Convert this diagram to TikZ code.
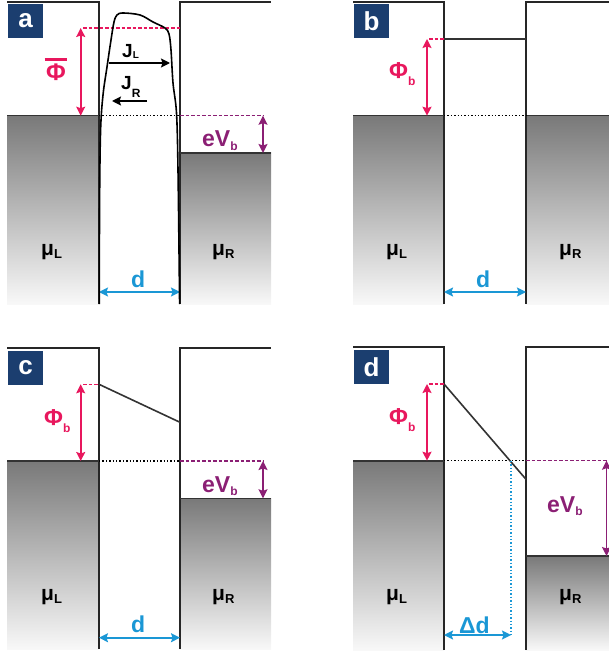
\documentclass[tikz,border=0pt]{standalone}
\usepackage{fontspec}
\setmainfont{Liberation Sans}
\usetikzlibrary{arrows.meta}
\definecolor{navy}{HTML}{1B3E6F}
\definecolor{pinkc}{HTML}{E8175D}
\definecolor{purp}{HTML}{8B1F74}
\definecolor{bluec}{HTML}{1A97D5}
\definecolor{gtop}{HTML}{797979}
\definecolor{gbot}{HTML}{F8F8F8}
\newcommand\sbs[3][3pt]{\raisebox{-#1}{\fontsize{#2}{#2}\selectfont #3}}
\newcommand\barphi{\setbox0=\hbox{Φ}\dimen0=\wd0 \advance\dimen0 by 3pt \vbox{\hrule width\dimen0 height 2.4pt\kern3.5pt\hbox to\dimen0{\hss\box0\hss}}}
\tikzset{
  panellbl/.style={fill=navy, text=white, minimum width=35pt, minimum height=34pt, inner sep=0pt, font=\fontsize{26}{26}\selectfont\bfseries},
  wall/.style={line width=1.8pt, black!85},
  lvl/.style={line width=1.6pt, black!80},
  metal/.style={top color=gtop, bottom color=gbot},
  big/.style={font=\fontsize{23}{25}\selectfont\bfseries, inner sep=0pt, anchor=base west},
  mu/.style={font=\fontsize{21}{23}\selectfont\bfseries, inner sep=0pt, anchor=base west},
  jtxt/.style={font=\fontsize{19}{21}\selectfont\bfseries, inner sep=0pt, anchor=base west},
  tip/.tip={Stealth[length=9pt,width=9pt,inset=1.5pt]},
  dbl/.style={tip-tip, line width=1.6pt},
  sgl/.style={-tip, line width=1.6pt},
  dotline/.style={line width=1.5pt, dash pattern=on 1.4pt off 2pt},
  dashline/.style={line width=1.4pt, dash pattern=on 3.5pt off 2pt},
}
\begin{document}
\begin{tikzpicture}[x=1pt,y=-1pt]
\useasboundingbox (0,0) rectangle (609,655);

% ================= panel a =================
\shade[metal] (7,115.7) rectangle (99,304);
\shade[metal] (180,153) rectangle (271,304);
\coordinate (aTL) at (7,2.3);
\coordinate (aTLc) at (99,2.3);
\coordinate (aBL) at (99,304);
\coordinate (aTR) at (271,2.3);
\coordinate (aTRc) at (180,2.3);
\coordinate (aBR) at (180,304);
\coordinate (aFL0) at (7,115.7);
\coordinate (aFL) at (99,115.7);
\coordinate (aFR) at (180,115.7);
\coordinate (aFRe) at (263,115.7);
\coordinate (aR0) at (180,153);
\coordinate (aR1) at (271,153);
\coordinate (aPt) at (83,28);
\coordinate (aPr) at (180,28);
\coordinate (aPa) at (80.7,28);
\coordinate (aPb) at (80.7,115.7);
\coordinate (aVa) at (263,115.7);
\coordinate (aVb) at (263,153);
\coordinate (aDa) at (99,292);
\coordinate (aDb) at (180,292);
\draw[wall] (aTL) -- (aTLc) -- (aBL);
\draw[wall] (aBR) -- (aTRc) -- (aTR);
\draw[lvl] (aFL0) -- (aFL);
\draw[lvl] (aR0) -- (aR1);
\draw[dotline] (aFL) -- (aFR);
\draw[dashline, purp] (aFR) -- (aFRe);
\draw[dashline, pinkc] (aPt) -- (aPr);
\draw[dbl, pinkc] (aPa) -- (aPb);
\draw[dbl, purp] (aVa) -- (aVb);
\draw[dbl, bluec] (aDa) -- (aDb);
\draw[line width=1.6pt] plot[smooth, tension=0.55] coordinates {(99.3,304) (99.6,200) (100.6,130) (103,95) (107,67) (111,40) (114,22) (117,15) (123,13) (140,15) (153,22) (165,28) (169,34) (171,50) (173,83) (176.5,113) (178,170) (179.6,304)};
\coordinate (aJLa) at (109,63);
\coordinate (aJLb) at (170,63);
\coordinate (aJRa) at (147,101);
\coordinate (aJRb) at (112,101);
\draw[sgl] (aJLa) -- (aJLb);
\draw[sgl] (aJRa) -- (aJRb);
\node[panellbl] (la) at (25.5,21) {a};
\node[big, pinkc, anchor=base, font=\fontsize{24}{26}\selectfont\bfseries] (aphi) at (56,81) {\barphi};
\node[jtxt] (ajl) at (122,58) {J\sbs[1pt]{10}{L}};
\node[jtxt] (ajr) at (121,90) {J\sbs[8pt]{12}{R}};
\node[big, purp] (aev) at (202,147) {eV\sbs{12}{b}};
\node[mu] (amul) at (41,255) {μ\sbs{13}{L}};
\node[mu] (amur) at (212,255) {μ\sbs{13}{R}};
\node[big, bluec] (ad) at (131,287) {d};

% ================= panel b =================
\shade[metal] (353,115.7) rectangle (444,304);
\shade[metal] (526,115.7) rectangle (609,304);
\coordinate (bTL) at (353,2.3);
\coordinate (bTLc) at (444,2.3);
\coordinate (bBL) at (444,304);
\coordinate (bTR) at (609,2.3);
\coordinate (bTRc) at (526,2.3);
\coordinate (bBR) at (526,304);
\coordinate (bFL0) at (353,115.7);
\coordinate (bFL) at (444,115.7);
\coordinate (bFR) at (526,115.7);
\coordinate (bFR1) at (609,115.7);
\coordinate (bBa) at (444,39);
\coordinate (bBb) at (526,39);
\coordinate (bPt) at (429,39);
\coordinate (bPa) at (427,39);
\coordinate (bPb) at (427,115.7);
\coordinate (bDa) at (444,292);
\coordinate (bDb) at (526,292);
\draw[wall] (bTL) -- (bTLc) -- (bBL);
\draw[wall] (bBR) -- (bTRc) -- (bTR);
\draw[lvl] (bFL0) -- (bFL);
\draw[lvl] (bFR) -- (bFR1);
\draw[dotline] (bFL) -- (bFR);
\draw[lvl] (bBa) -- (bBb);
\draw[dashline, pinkc] (bPt) -- (bBa);
\draw[dbl, pinkc] (bPa) -- (bPb);
\draw[dbl, bluec] (bDa) -- (bDb);
\node[panellbl] (lb) at (371.5,21.5) {b};
\node[big, pinkc] (bphi) at (389,79) {Φ\sbs[7pt]{12}{b}};
\node[mu] (bmul) at (386,255) {μ\sbs{13}{L}};
\node[mu] (bmur) at (559,255) {μ\sbs{13}{R}};
\node[big, bluec] (bd) at (476,287) {d};

% ================= panel c =================
\shade[metal] (7,461) rectangle (99,649);
\shade[metal] (180,498.3) rectangle (271,649);
\coordinate (cTL) at (7,347.7);
\coordinate (cTLc) at (99,347.7);
\coordinate (cBL) at (99,649);
\coordinate (cTR) at (271,347.7);
\coordinate (cTRc) at (180,347.7);
\coordinate (cBR) at (180,649);
\coordinate (cFL0) at (7,461);
\coordinate (cFL) at (99,461);
\coordinate (cFR) at (180,461);
\coordinate (cFRe) at (263,461);
\coordinate (cR0) at (180,498.3);
\coordinate (cR1) at (271,498.3);
\coordinate (cBa) at (99,384.3);
\coordinate (cBb) at (180,422.3);
\coordinate (cPt) at (83,384.3);
\coordinate (cPa) at (80.7,384.3);
\coordinate (cPb) at (80.7,461);
\coordinate (cVa) at (263,461);
\coordinate (cVb) at (263,498.3);
\coordinate (cDa) at (99,637.7);
\coordinate (cDb) at (180,637.7);
\draw[wall] (cTL) -- (cTLc) -- (cBL);
\draw[wall] (cBR) -- (cTRc) -- (cTR);
\draw[lvl] (cFL0) -- (cFL);
\draw[lvl] (cR0) -- (cR1);
\draw[dotline] (cFL) -- (cFR);
\draw[dashline, purp] (cFR) -- (cFRe);
\draw[lvl] (cBa) -- (cBb);
\draw[dashline, pinkc] (cPt) -- (cBa);
\draw[dbl, pinkc] (cPa) -- (cPb);
\draw[dbl, purp] (cVa) -- (cVb);
\draw[dbl, bluec] (cDa) -- (cDb);
\node[panellbl] (lc) at (25.5,367.5) {c};
\node[big, pinkc] (cphi) at (44,425) {Φ\sbs[7pt]{12}{b}};
\node[big, purp] (cev) at (202,492) {eV\sbs{12}{b}};
\node[mu] (cmul) at (41,600) {μ\sbs{13}{L}};
\node[mu] (cmur) at (212,600) {μ\sbs{13}{R}};
\node[big, bluec] (cd) at (131,632) {d};

% ================= panel d =================
\shade[metal] (353,460.7) rectangle (444,650);
\shade[metal] (526,556) rectangle (609,650);
\coordinate (dTL) at (353,347.3);
\coordinate (dTLc) at (444,347.3);
\coordinate (dBL) at (444,650);
\coordinate (dTR) at (609,347.3);
\coordinate (dTRc) at (526,347.3);
\coordinate (dBR) at (526,650);
\coordinate (dFL0) at (353,460.7);
\coordinate (dFL) at (444,460.7);
\coordinate (dFR) at (526,460.7);
\coordinate (dFRe) at (609,460.7);
\coordinate (dR0) at (526,556);
\coordinate (dR1) at (609,556);
\coordinate (dBa) at (444,384);
\coordinate (dBb) at (526,479.3);
\coordinate (dPt) at (429,384);
\coordinate (dPa) at (427,384);
\coordinate (dPb) at (427,460.7);
\coordinate (dVa) at (606.5,460.7);
\coordinate (dVb) at (606.5,556);
\coordinate (dXa) at (511,460.7);
\coordinate (dXb) at (511,635);
\coordinate (dDa) at (444,635);
\draw[wall] (dTL) -- (dTLc) -- (dBL);
\draw[wall] (dBR) -- (dTRc) -- (dTR);
\draw[lvl] (dFL0) -- (dFL);
\draw[lvl] (dR0) -- (dR1);
\draw[dotline] (dFL) -- (dFR);
\draw[dashline, purp] (dFR) -- (dFRe);
\draw[lvl] (dBa) -- (dBb);
\draw[dashline, pinkc] (dPt) -- (dBa);
\draw[dbl, pinkc] (dPa) -- (dPb);
\draw[dbl, purp] (dVa) -- (dVb);
\draw[dotline, bluec] (dXa) -- (dXb);
\draw[dbl, bluec] (dDa) -- (dXb);
\node[panellbl] (ld) at (371.5,367) {d};
\node[big, pinkc] (dphi) at (389,424) {Φ\sbs[7pt]{12}{b}};
\node[big, purp] (dev) at (547,512) {eV\sbs{12}{b}};
\node[mu] (dmul) at (386,600) {μ\sbs{13}{L}};
\node[mu] (dmur) at (559,600) {μ\sbs{13}{R}};
\node[big, bluec] (ddd) at (459,633) {Δd};
\end{tikzpicture}
\end{document}
